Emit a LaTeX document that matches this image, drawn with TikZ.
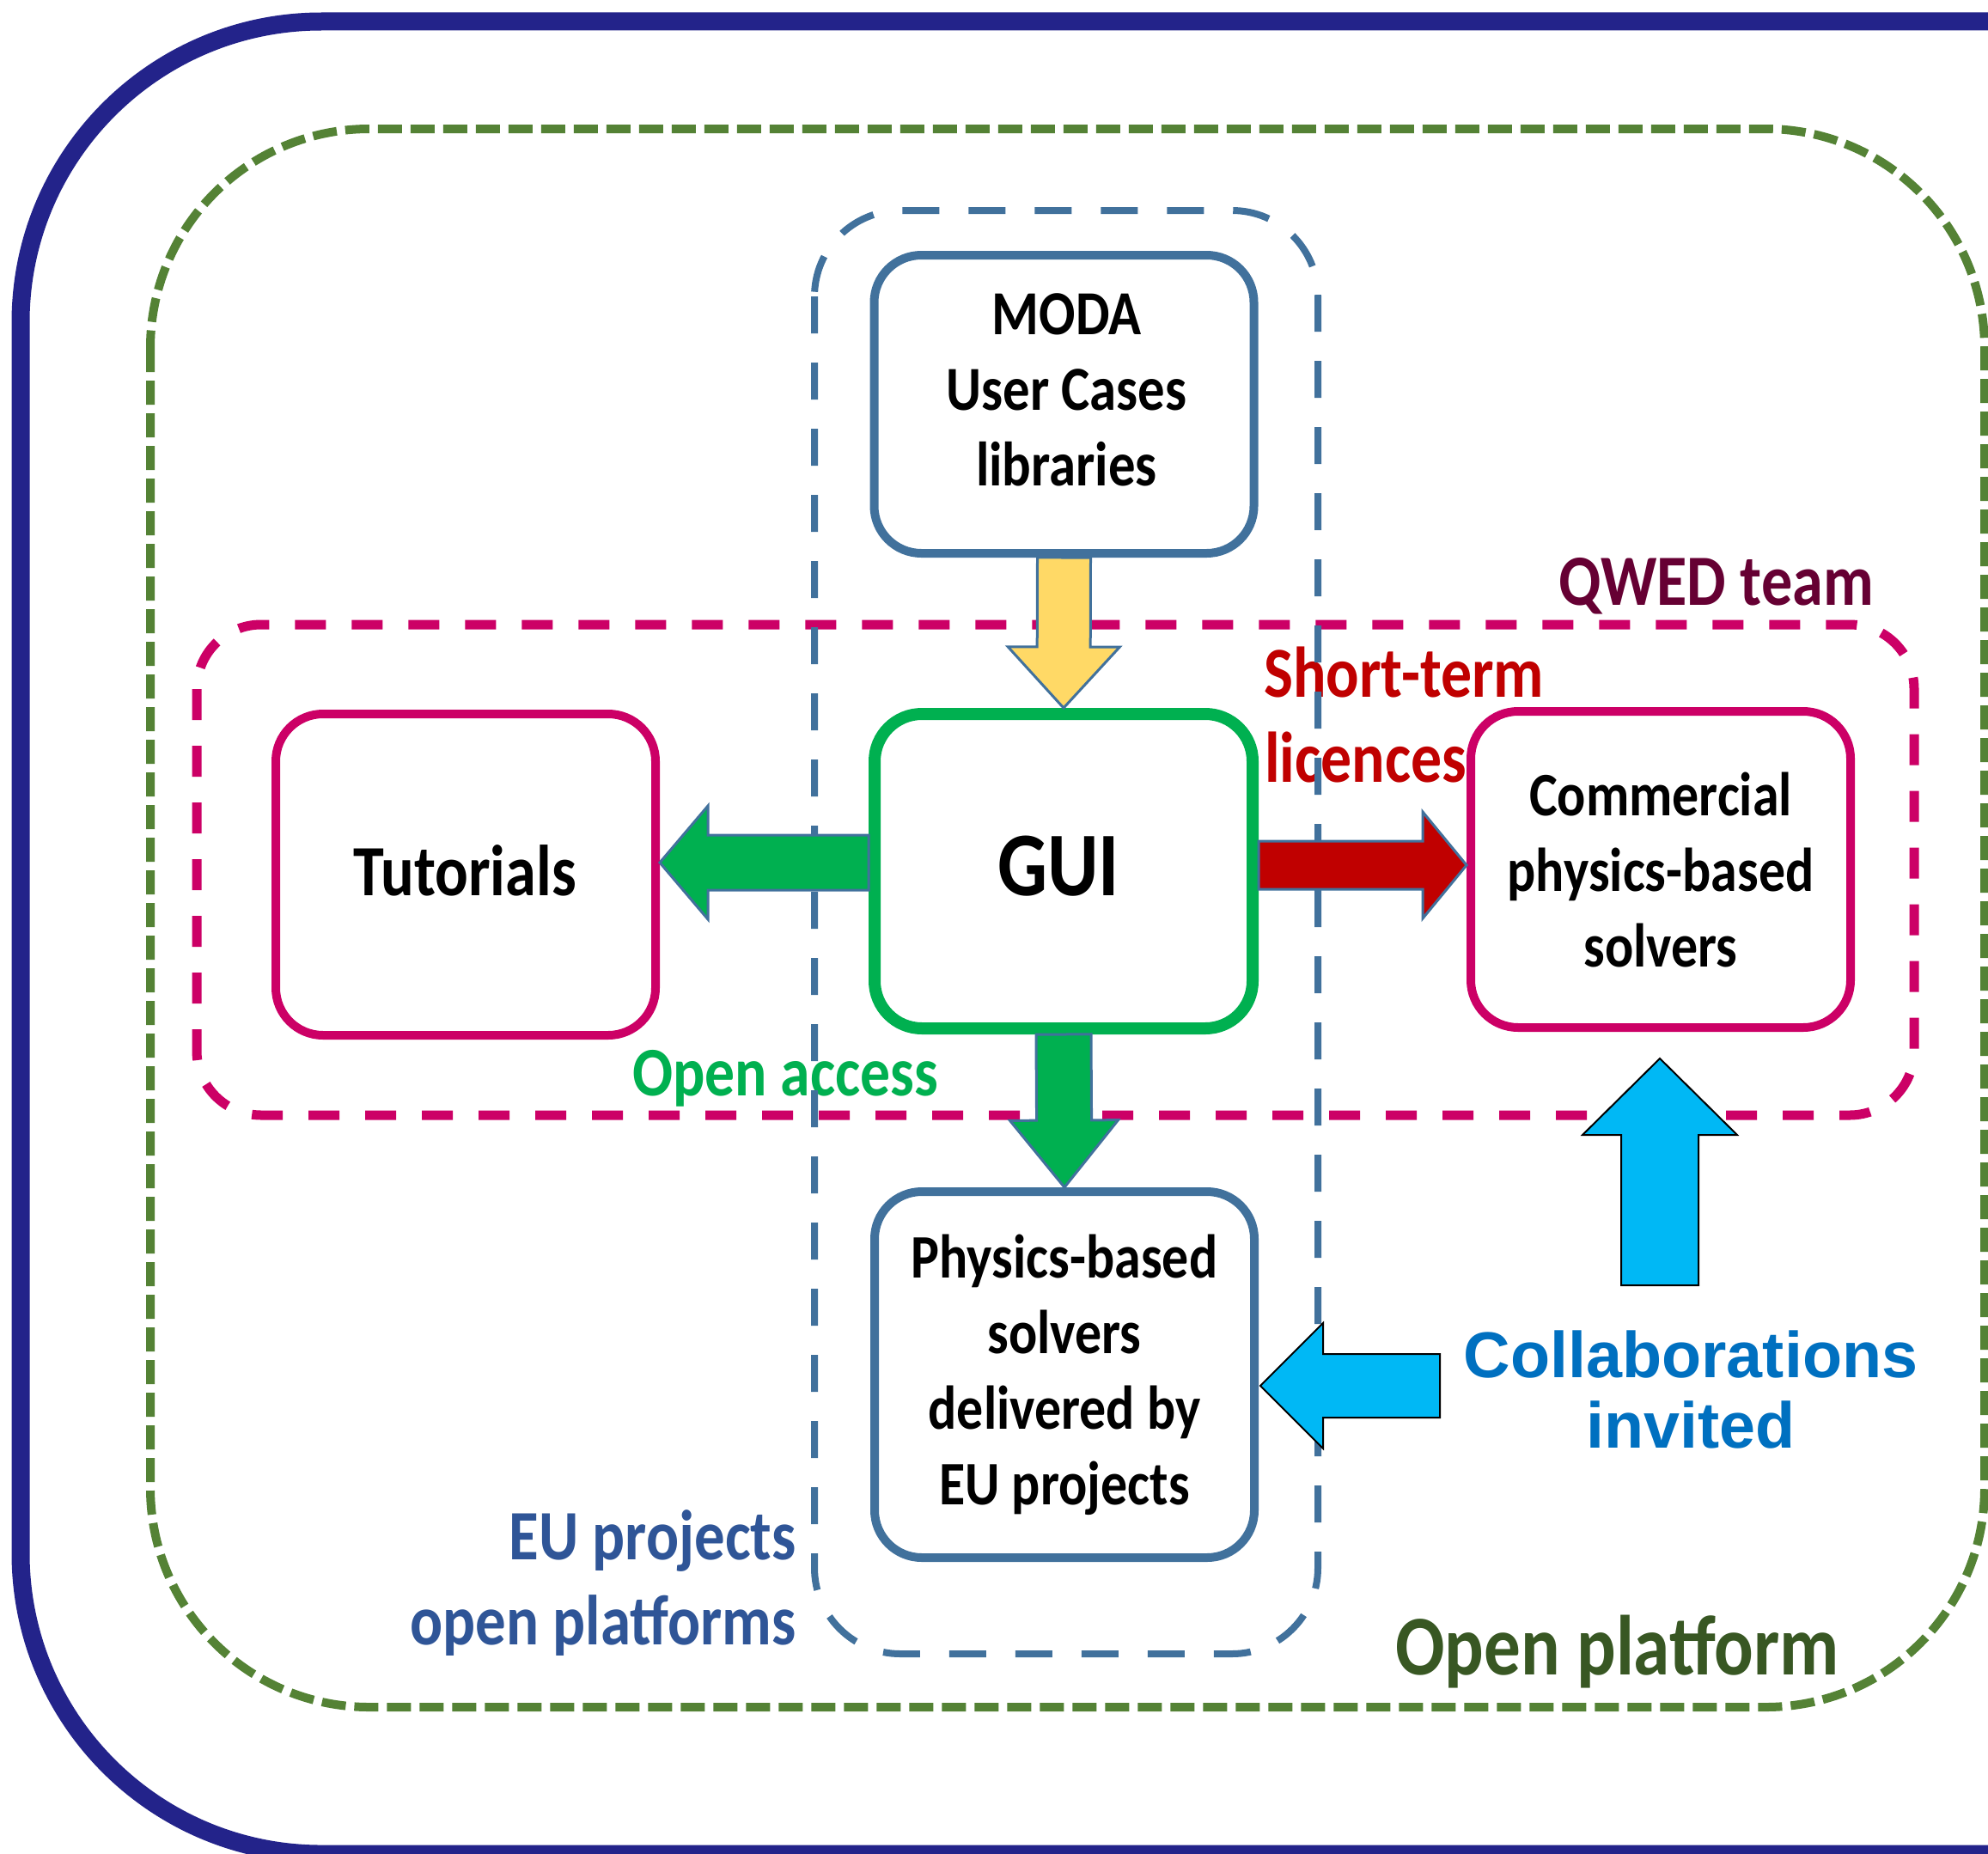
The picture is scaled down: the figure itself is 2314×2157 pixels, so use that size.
\documentclass[tikz,border=0pt]{standalone}
\usepackage{fontspec}
\usetikzlibrary{calc}
\newfontfamily\calfont{Carlito}[FakeStretch=0.86]
\newfontfamily\arialfont{Liberation Sans}
\definecolor{cFrame}{HTML}{23238A}
\definecolor{cOpen}{HTML}{548235}
\definecolor{cEU}{HTML}{41719C}
\definecolor{cQW}{HTML}{CC0066}
\definecolor{cGreen}{HTML}{00B050}
\definecolor{cRed}{HTML}{C00000}
\definecolor{cYel}{HTML}{FFD966}
\definecolor{cCyan}{HTML}{00B8F5}
\definecolor{cCollab}{HTML}{0070C0}
\definecolor{cQWtxt}{HTML}{660033}
\definecolor{cEUtxt}{HTML}{2F5597}
\definecolor{cOPtxt}{HTML}{385723}
\newcommand\blockarr[6]{%
  \coordinate (ba-h) at ($(#3)!#6!(#2)$);
  \filldraw[#1] ($(#2)!#4!90:(#3)$) -- ($(ba-h)!#4!90:(#3)$) -- ($(ba-h)!#5!90:(#3)$) -- (#3)
    -- ($(ba-h)!#5!-90:(#3)$) -- ($(ba-h)!#4!-90:(#3)$) -- ($(#2)!#4!-90:(#3)$) -- cycle;
}
\begin{document}
\begin{tikzpicture}[x=1pt,y=-1pt,
  box/.style={draw, fill=white, rounded corners=55pt, line width=10pt, minimum width=442pt, inner sep=0pt},
  boxtxt/.style={font=\calfont\bfseries\fontsize{72}{88}\selectfont, align=center, inner sep=0pt},
  lbl/.style={inner sep=0pt},
  edgearrow/.style={draw=cEU, line width=3pt, line join=miter},
  cyanarrow/.style={fill=cCyan, draw=black, line width=2pt, line join=miter}]
\useasboundingbox (0,0) rectangle (2314,2157);
\fill[white] (0,0) rectangle (2314,2157);
\begin{scope}
\clip (0,0) rectangle (2314,2157);
\draw[line width=21pt, cFrame, rounded corners=350pt] (24,25) rectangle (2700,2158);
\draw[line width=10pt, cOpen, dash pattern=on 28pt off 10pt, rounded corners=255pt] (175,150) rectangle (2310,1987);
\end{scope}
% QWED team group
\draw[line width=11pt, cQW, dash pattern=on 36pt off 30pt, rounded corners=75pt] (229,727) rectangle (2228,1298);
% labels
\node[lbl, cQWtxt, font=\calfont\bfseries\fontsize{84}{99}\selectfont, anchor=base west] (qwed) at (1814,704) {QWED team};
\node[lbl, cRed, font=\calfont\bfseries\fontsize{83.5}{99}\selectfont, anchor=base west] (short1) at (1471,811) {Short-term};
\node[lbl, cRed, font=\calfont\bfseries\fontsize{83.5}{99}\selectfont, anchor=base west] (short2) at (1472,910) {licences};
\node[lbl, cGreen, font=\calfont\bfseries\fontsize{81}{95}\selectfont, anchor=base west] (oacc) at (736,1275) {Open access};
\node[lbl, cOPtxt, font=\calfont\bfseries\fontsize{99}{110}\selectfont, anchor=base west] (oplat) at (1624,1949) {Open platform};
\node[lbl, cEUtxt, font=\calfont\bfseries\fontsize{82.5}{99}\selectfont, anchor=base east] (eup1) at (927,1815) {EU projects};
\node[lbl, cEUtxt, font=\calfont\bfseries\fontsize{82.5}{99}\selectfont, anchor=base east] (eup2) at (927,1914) {open platforms};
\node[lbl, cCollab, font=\arialfont\bfseries\fontsize{75.5}{82}\selectfont, anchor=base] (coll1) at (1968,1603) {Collaborations};
\node[lbl, cCollab, font=\arialfont\bfseries\fontsize{75.5}{82}\selectfont, anchor=base] (coll2) at (1968,1685) {invited};
% EU projects group
\draw[line width=8pt, cEU, dash pattern=on 43pt off 34pt, rounded corners=100pt] (948,245) rectangle (1534,1925);
% boxes
\node[box, draw=cEU, minimum height=347pt] (moda) at (1238.5,470.5) {};
\node[box, draw=cGreen, line width=14pt, minimum width=440pt, minimum height=366pt] (gui) at (1238,1014) {};
\node[box, draw=cQW, minimum height=374pt] (tut) at (542,1018) {};
\node[box, draw=cQW, minimum height=368pt] (comm) at (1933,1012) {};
\node[box, draw=cEU, minimum height=426pt] (phys) at (1239,1600) {};
% box texts
\node[boxtxt, font=\calfont\bfseries\fontsize{73}{88}\selectfont] (modaT) at ($(moda.center)+(3,-17)$) {MODA\\User Cases\\libraries};
\node[lbl, font=\calfont\bfseries\fontsize{106}{120}\selectfont, anchor=base] (guiT) at (1232,1042) {GUI};
\node[lbl, font=\calfont\bfseries\fontsize{84}{99}\selectfont, anchor=base] (tutT) at (541,1042) {Tutorials};
\node[boxtxt] (commT) at (comm.center) {Commercial\\physics-based\\solvers};
\node[boxtxt] (physT) at (phys.center) {Physics-based\\solvers\\delivered by\\EU projects};
% arrows
\blockarr{edgearrow, fill=cYel}{moda.south}{gui.north}{31pt}{65pt}{71pt}
\coordinate (gaS) at ($(gui.west)+(0,-10)$);
\coordinate (gaT) at ($(tut.east)+(0,-14)$);
\blockarr{edgearrow, fill=cGreen}{gaS}{gaT}{32pt}{66pt}{56pt}
\coordinate (raS) at ($(gui.east)+(0,-7)$);
\coordinate (raT) at ($(comm.west)+(0,-5)$);
\blockarr{edgearrow, fill=cRed}{raS}{raT}{28pt}{62pt}{51pt}
\blockarr{edgearrow, fill=cGreen}{gui.south}{phys.north}{32pt}{63pt}{78pt}
\coordinate (cuS) at (1932,1496);
\coordinate (cuT) at ($(comm.south)+(-1,31)$);
\blockarr{cyanarrow}{cuS}{cuT}{45pt}{90pt}{89pt}
\coordinate (clS) at (1676,1613);
\coordinate (clT) at ($(phys.east)+(2,13)$);
\blockarr{cyanarrow}{clS}{clT}{37pt}{73pt}{73pt}
\end{tikzpicture}
\end{document}
